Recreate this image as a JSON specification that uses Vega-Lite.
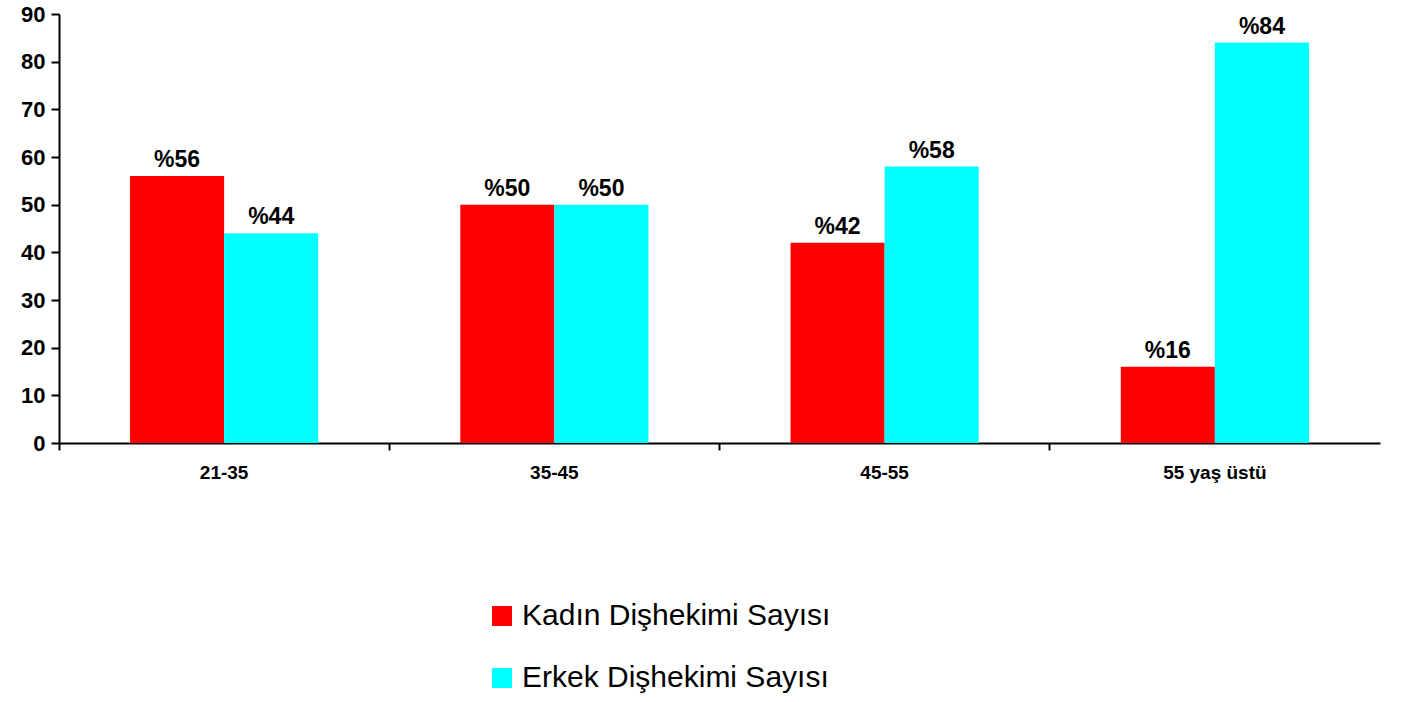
{
  "$schema": "https://vega.github.io/schema/vega-lite/v6.json",
  "autosize": "none",
  "width": 1321,
  "height": 429,
  "padding": {"left": 59, "top": 14, "right": 22, "bottom": 259},
  "background": "white",
  "config": {
    "view": {"stroke": null},
    "font": "Liberation Sans"
  },
  "data": {
    "values": [
      {"grup": "21-35", "cins": "Kadın Dişhekimi Sayısı", "deger": 56, "etiket": "%56"},
      {"grup": "21-35", "cins": "Erkek Dişhekimi Sayısı", "deger": 44, "etiket": "%44"},
      {"grup": "35-45", "cins": "Kadın Dişhekimi Sayısı", "deger": 50, "etiket": "%50"},
      {"grup": "35-45", "cins": "Erkek Dişhekimi Sayısı", "deger": 50, "etiket": "%50"},
      {"grup": "45-55", "cins": "Kadın Dişhekimi Sayısı", "deger": 42, "etiket": "%42"},
      {"grup": "45-55", "cins": "Erkek Dişhekimi Sayısı", "deger": 58, "etiket": "%58"},
      {"grup": "55 yaş üstü", "cins": "Kadın Dişhekimi Sayısı", "deger": 16, "etiket": "%16"},
      {"grup": "55 yaş üstü", "cins": "Erkek Dişhekimi Sayısı", "deger": 84, "etiket": "%84"}
    ]
  },
  "encoding": {
    "x": {
      "field": "grup",
      "type": "nominal",
      "sort": null,
      "scale": {"paddingInner": 0, "paddingOuter": 0},
      "axis": {
        "title": null,
        "labelAngle": 0,
        "bandPosition": 0,
        "labelFont": "Liberation Sans",
        "labelFontWeight": "bold",
        "labelFontSize": 19,
        "labelColor": "black",
        "labelPadding": 13,
        "domainColor": "black",
        "domainWidth": 2,
        "tickColor": "black",
        "tickWidth": 2,
        "tickSize": 7,
        "grid": false
      }
    },
    "xOffset": {
      "field": "cins",
      "type": "nominal",
      "sort": ["Kadın Dişhekimi Sayısı", "Erkek Dişhekimi Sayısı"],
      "scale": {"paddingInner": 0, "paddingOuter": 0.755}
    },
    "y": {
      "field": "deger",
      "type": "quantitative",
      "scale": {"domain": [0, 90], "nice": false},
      "axis": {
        "title": null,
        "values": [0, 10, 20, 30, 40, 50, 60, 70, 80, 90],
        "labelFont": "Liberation Sans",
        "labelFontWeight": "bold",
        "labelFontSize": 22,
        "labelColor": "black",
        "labelPadding": 6,
        "domainColor": "black",
        "domainWidth": 2,
        "tickColor": "black",
        "tickWidth": 2,
        "tickSize": 8,
        "grid": false
      }
    }
  },
  "layer": [
    {
      "mark": {"type": "bar"},
      "encoding": {
        "color": {
          "field": "cins",
          "type": "nominal",
          "sort": ["Kadın Dişhekimi Sayısı", "Erkek Dişhekimi Sayısı"],
          "scale": {
            "domain": ["Kadın Dişhekimi Sayısı", "Erkek Dişhekimi Sayısı"],
            "range": ["#FF0000", "#00FFFF"]
          },
          "legend": {
            "title": null,
            "orient": "none",
            "legendX": 428,
            "legendY": 587,
            "symbolType": "square",
            "symbolSize": 400,
            "symbolStrokeWidth": 0,
            "symbolOpacity": 1,
            "labelFont": "Liberation Sans",
            "labelFontSize": 30,
            "labelColor": "black",
            "labelOffset": 5,
            "labelLimit": 500,
            "rowPadding": 32
          }
        }
      }
    },
    {
      "mark": {
        "type": "text",
        "baseline": "alphabetic",
        "dy": -9,
        "font": "Liberation Sans",
        "fontWeight": "bold",
        "fontSize": 23,
        "color": "black"
      },
      "encoding": {
        "text": {"field": "etiket", "type": "nominal"}
      }
    }
  ]
}
